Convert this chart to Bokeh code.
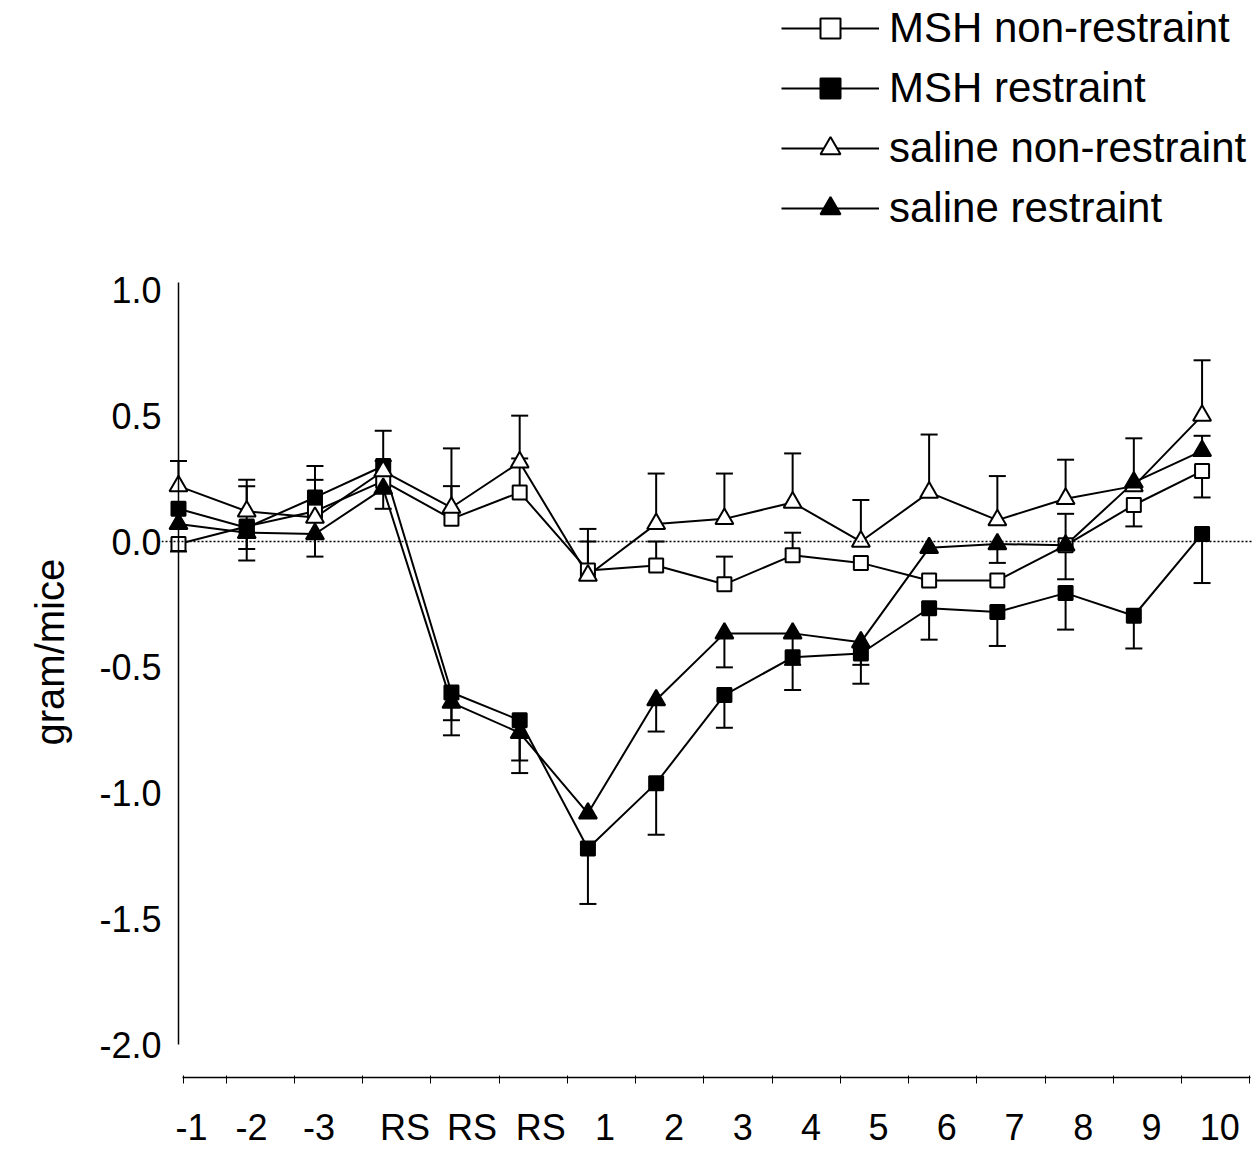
from bokeh.plotting import figure
from bokeh.models import FixedTicker, PrintfTickFormatter, Span, Legend, LegendItem, LinearAxis, Title
from bokeh.embed import file_html
from bokeh.resources import INLINE

# ---- data -------------------------------------------------------------
days = ["-1", "-2", "-3", "RS", "RS", "RS", "1", "2", "3", "4", "5", "6", "7", "8", "9", "10"]

msh_non = [-0.01, 0.06, 0.12, 0.24, 0.09, 0.195, -0.115, -0.095, -0.17, -0.055, -0.085, -0.155, -0.155, -0.015, 0.145, 0.28]
msh_non_err = [0.03, 0.16, 0.125, 0.08, 0.13, 0.135, 0.115, 0.095, 0.11, 0.09, 0.0, 0.0, 0.0, 0.125, 0.085, 0.105]
msh_non_dir = [-1, 1, 1, 1, 1, 1, 1, 1, 1, 1, 1, 1, 1, 1, -1, -1]

msh_res = [0.13, 0.055, 0.175, 0.30, -0.60, -0.71, -1.22, -0.96, -0.61, -0.46, -0.445, -0.265, -0.28, -0.205, -0.295, 0.03]
msh_res_err = [0.0, 0.13, 0.125, 0.0, 0.11, 0.16, 0.22, 0.205, 0.13, 0.13, 0.12, 0.125, 0.135, 0.145, 0.13, 0.195]
msh_res_dir = [-1, -1, 1, 1, -1, -1, -1, -1, -1, -1, -1, -1, -1, -1, -1, -1]

sal_non = [0.22, 0.12, 0.095, 0.28, 0.135, 0.315, -0.135, 0.07, 0.09, 0.155, 0.0, 0.195, 0.085, 0.17, 0.22, 0.50]
sal_non_err = [0.10, 0.125, 0.0, 0.16, 0.235, 0.185, 0.185, 0.20, 0.18, 0.195, 0.165, 0.23, 0.175, 0.155, 0.19, 0.22]
sal_non_dir = [1] * 16

sal_res = [0.07, 0.035, 0.03, 0.21, -0.64, -0.76, -1.08, -0.63, -0.365, -0.365, -0.40, -0.025, -0.01, -0.015, 0.235, 0.36]
sal_res_err = [0.0, 0.065, 0.09, 0.08, 0.13, 0.16, 0.0, 0.125, 0.135, 0.125, 0.09, 0.0, 0.075, 0.135, 0.0, 0.06]
sal_res_dir = [-1, -1, -1, -1, -1, -1, -1, -1, -1, -1, -1, -1, -1, -1, -1, 1]

y_ticks = [-2.0, -1.5, -1.0, -0.5, 0.0, 0.5, 1.0]
y_title = "gram/mice"

# ---- layout helpers (positions of axis labels / tick marks) -------------
label_offset = [0.19, 0.07, 0.06, 0.32, 0.30, 0.31, 0.25, 0.26, 0.27, 0.27, 0.26, 0.26, 0.25, 0.26, 0.26, 0.26]
x = list(range(len(days)))
label_pos = [i + o for i, o in zip(x, label_offset)]
tick_pos = [0.07] + [i + 0.7 for i in x]

FONT = "Liberation Sans"

p = figure(width=1252, height=1150,
           x_range=(-0.249, 15.739), y_range=(-2.1295, 2.1415),
           output_backend="svg", toolbar_location=None,
           min_border_top=2, min_border_right=0, min_border_bottom=0, min_border_left=160)
p.xgrid.visible = False
p.ygrid.visible = False
p.outline_line_color = None
p.background_fill_color = "white"

# y axis (tick labels in the left panel; its own line hidden)
ya = p.yaxis[0]
ya.ticker = FixedTicker(ticks=y_ticks, minor_ticks=[])
ya.formatter = PrintfTickFormatter(format="%.1f")
ya.major_tick_in = 0
ya.major_tick_out = 0
ya.major_tick_line_color = None
ya.minor_tick_line_color = None
ya.axis_line_color = None
ya.major_label_standoff = 0
ya.major_label_text_font = FONT
ya.major_label_text_font_size = "36px"
ya.major_label_text_color = "black"

# y axis rule through the first day (x = 0)
rule = LinearAxis(fixed_location=0, bounds=(-2.0, 1.03),
                  ticker=FixedTicker(ticks=[], minor_ticks=[]),
                  major_tick_line_color=None, minor_tick_line_color=None,
                  major_label_text_font_size="0px",
                  axis_line_color="black", axis_line_width=1.5)
p.add_layout(rule, "left")

# y axis title
p.add_layout(Title(text=y_title, align="left", offset=332, standoff=50,
                   text_font=FONT, text_font_size="40px", text_font_style="normal",
                   text_color="black"), "left")

# x axis
xa = p.xaxis[0]
xa.bounds = (0.06, 15.71)
xa.ticker = FixedTicker(ticks=label_pos, minor_ticks=tick_pos)
xa.major_label_overrides = {lp: d for lp, d in zip(label_pos, days)}
xa.major_tick_in = 0
xa.major_tick_out = 0
xa.major_tick_line_color = None
xa.minor_tick_in = 2
xa.minor_tick_out = 6
xa.minor_tick_line_color = "black"
xa.minor_tick_line_width = 1
xa.axis_line_color = "black"
xa.axis_line_width = 1.5
xa.major_label_standoff = 23
xa.major_label_text_font = FONT
xa.major_label_text_font_size = "36px"
xa.major_label_text_color = "black"

# zero line
p.add_layout(Span(location=0, dimension="width", line_color="black", line_width=1.3, line_dash="2 2"))

series = [
    ("MSH non-restraint", msh_non, msh_non_err, msh_non_dir, "square", "white", 14),
    ("MSH restraint", msh_res, msh_res_err, msh_res_dir, "square", "black", 14),
    ("saline non-restraint", sal_non, sal_non_err, sal_non_dir, "triangle", "white", 18),
    ("saline restraint", sal_res, sal_res_err, sal_res_dir, "triangle", "black", 18),
]

# error bars
for name, vals, errs, dirs, mk, fill, sz in series:
    ex = [xi for xi, e in zip(x, errs) if e > 0]
    y0 = [v for v, e in zip(vals, errs) if e > 0]
    y1 = [v + d * e for v, e, d in zip(vals, errs, dirs) if e > 0]
    p.segment(x0=ex, y0=y0, x1=ex, y1=y1, line_color="black", line_width=2)
    p.scatter(x=ex, y=y1, marker="dash", size=17, line_color="black", line_width=2)

items = []
line_rs = []
for name, vals, errs, dirs, mk, fill, sz in series:
    lr = p.line(x=x, y=vals, line_color="black", line_width=2)
    line_rs.append(lr)

for (name, vals, errs, dirs, mk, fill, sz), lr in zip(series, line_rs):
    sr = p.scatter(x=x, y=vals, marker=mk, size=sz, fill_color=fill, line_color="black", line_width=2)
    items.append(LegendItem(label=name, renderers=[lr, sr]))

legend = Legend(items=items, location=(620, 844), orientation="vertical",
                glyph_width=98, glyph_height=50, label_standoff=10, spacing=10,
                padding=0, margin=0, border_line_color=None, background_fill_alpha=0,
                label_text_font=FONT, label_text_font_size="42px", label_text_color="black")
p.add_layout(legend)

open("out.html", "w").write(file_html(p, INLINE))
